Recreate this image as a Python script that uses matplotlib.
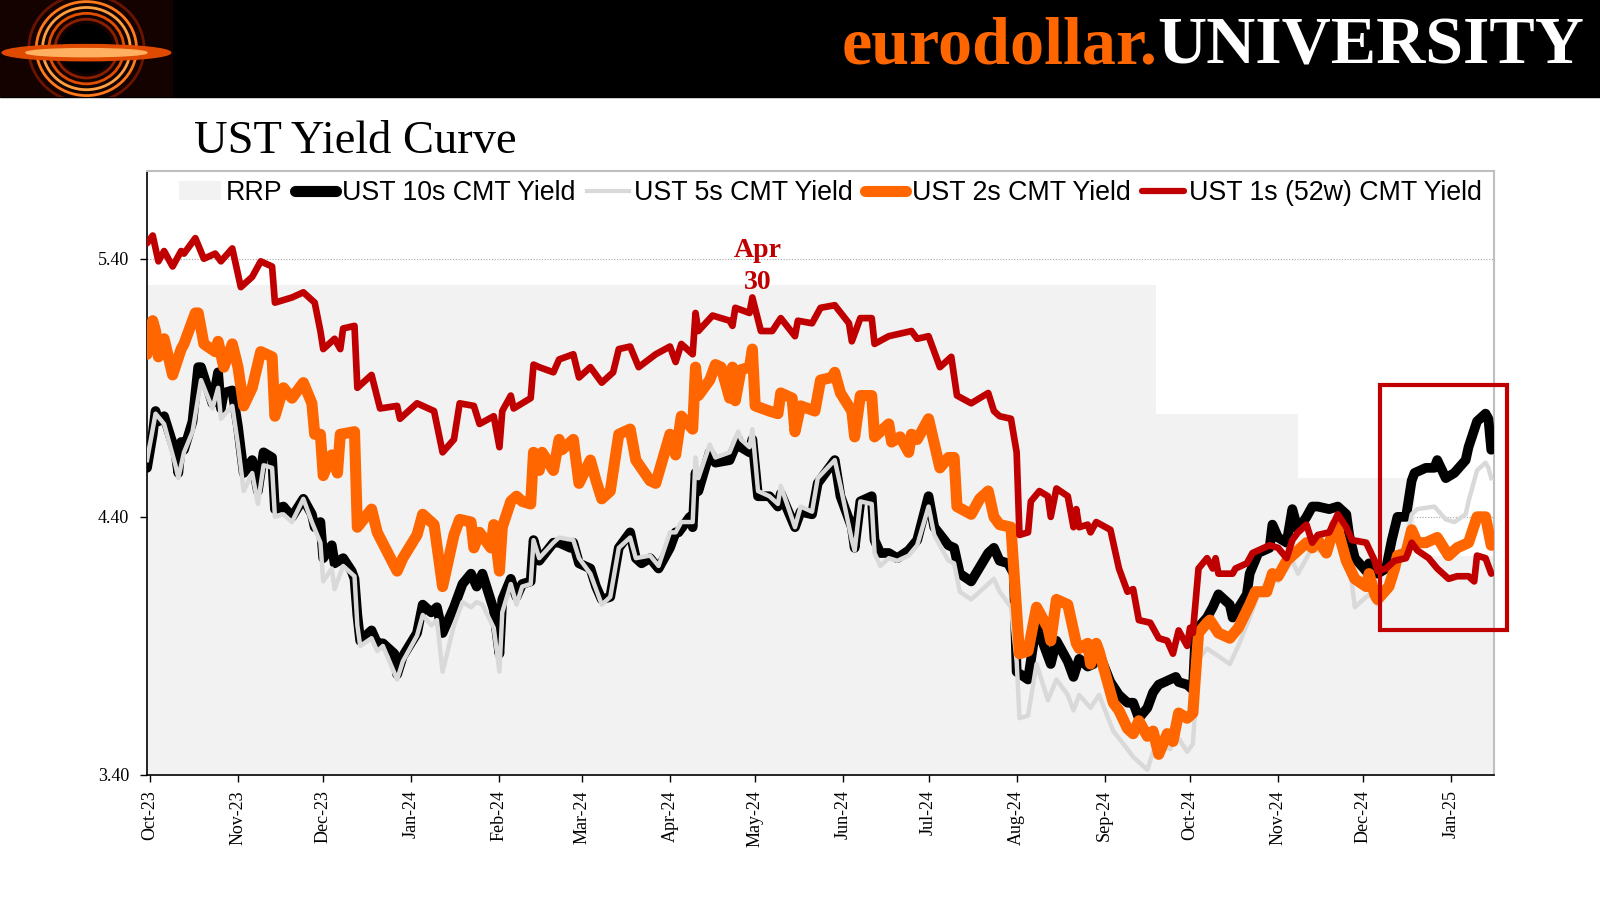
import pandas as pd
import matplotlib
matplotlib.use("Agg")
import matplotlib.pyplot as plt
import matplotlib.dates as mdates
from matplotlib.patches import Rectangle, Ellipse, Patch
from matplotlib.lines import Line2D

# RRP award rate steps (holds until next date)
rrp_dates = ["2023-09-30", "2024-09-19", "2024-11-08", "2024-12-19", "2025-01-16"]
rrp_vals = [5.30, 4.80, 4.55, 4.25, 4.25]

# UST 1s (52w) CMT yield
ust1 = [("2023-09-30",5.46),("2023-10-02",5.49),("2023-10-04",5.39),("2023-10-06",5.43),("2023-10-09",5.37),
        ("2023-10-12",5.43),("2023-10-13",5.42),("2023-10-17",5.48),("2023-10-20",5.40),("2023-10-24",5.42),
        ("2023-10-26",5.39),("2023-10-30",5.44),("2023-11-02",5.29),("2023-11-06",5.33),("2023-11-09",5.39),
        ("2023-11-13",5.37),("2023-11-14",5.23),("2023-11-20",5.25),("2023-11-24",5.27),("2023-11-28",5.23),
        ("2023-11-30",5.12),("2023-12-01",5.05),("2023-12-05",5.09),("2023-12-07",5.05),("2023-12-08",5.13),
        ("2023-12-12",5.14),("2023-12-13",4.90),("2023-12-18",4.95),("2023-12-21",4.82),("2023-12-27",4.83),
        ("2023-12-28",4.78),("2024-01-03",4.84),("2024-01-09",4.81),("2024-01-12",4.65),("2024-01-16",4.70),
        ("2024-01-18",4.84),("2024-01-23",4.83),("2024-01-25",4.76),("2024-01-30",4.79),("2024-02-01",4.67),
        ("2024-02-02",4.81),("2024-02-05",4.87),("2024-02-06",4.82),("2024-02-12",4.86),("2024-02-13",4.99),
        ("2024-02-15",4.98),("2024-02-20",4.96),("2024-02-22",5.01),("2024-02-27",5.03),("2024-02-29",4.94),
        ("2024-03-04",4.98),("2024-03-08",4.92),("2024-03-12",4.96),("2024-03-14",5.05),("2024-03-18",5.06),
        ("2024-03-21",4.98),("2024-03-27",5.03),("2024-04-01",5.06),("2024-04-03",5.00),("2024-04-05",5.07),
        ("2024-04-09",5.03),("2024-04-10",5.19),("2024-04-11",5.12),("2024-04-16",5.18),("2024-04-22",5.16),
        ("2024-04-23",5.14),("2024-04-24",5.21),("2024-04-29",5.19),("2024-04-30",5.25),("2024-05-03",5.12),
        ("2024-05-07",5.12),("2024-05-10",5.17),("2024-05-15",5.10),("2024-05-16",5.16),("2024-05-21",5.15),
        ("2024-05-24",5.21),("2024-05-29",5.22),("2024-06-03",5.15),("2024-06-04",5.08),("2024-06-07",5.17),
        ("2024-06-11",5.17),("2024-06-12",5.07),("2024-06-17",5.10),("2024-06-25",5.12),("2024-06-27",5.09),
        ("2024-07-01",5.10),("2024-07-05",4.98),("2024-07-09",5.02),("2024-07-11",4.87),("2024-07-16",4.84),
        ("2024-07-22",4.88),("2024-07-24",4.81),("2024-07-26",4.79),("2024-07-30",4.78),("2024-08-01",4.65),
        ("2024-08-02",4.33),("2024-08-05",4.34),("2024-08-06",4.46),("2024-08-09",4.50),("2024-08-12",4.48),
        ("2024-08-13",4.40),("2024-08-15",4.51),("2024-08-19",4.48),("2024-08-21",4.36),("2024-08-22",4.43),
        ("2024-08-23",4.36),("2024-08-26",4.37),("2024-08-27",4.34),("2024-08-29",4.38),("2024-09-03",4.35),
        ("2024-09-06",4.20),("2024-09-09",4.11),("2024-09-11",4.12),("2024-09-13",4.00),("2024-09-17",3.99),
        ("2024-09-20",3.93),("2024-09-23",3.92),("2024-09-25",3.87),("2024-09-27",3.96),("2024-09-30",3.90),
        ("2024-10-01",3.97),("2024-10-02",3.95),("2024-10-04",4.20),("2024-10-07",4.24),("2024-10-09",4.20),
        ("2024-10-10",4.24),("2024-10-11",4.18),("2024-10-16",4.18),("2024-10-17",4.20),("2024-10-21",4.22),
        ("2024-10-23",4.26),("2024-10-25",4.27),("2024-10-29",4.29),("2024-11-01",4.28),("2024-11-04",4.24),
        ("2024-11-06",4.31),("2024-11-08",4.34),("2024-11-11",4.37),("2024-11-13",4.30),("2024-11-15",4.33),
        ("2024-11-19",4.34),("2024-11-22",4.41),("2024-11-25",4.36),("2024-11-27",4.31),("2024-12-02",4.30),
        ("2024-12-05",4.23),("2024-12-06",4.19),("2024-12-09",4.20),("2024-12-12",4.23),("2024-12-16",4.24),
        ("2024-12-18",4.30),("2024-12-20",4.27),("2024-12-24",4.24),("2024-12-27",4.20),("2024-12-31",4.16),
        ("2025-01-03",4.17),("2025-01-07",4.17),("2025-01-09",4.15),("2025-01-10",4.25),("2025-01-13",4.24),
        ("2025-01-15",4.18)]

# UST 2s CMT yield
ust2 = [("2023-09-30",5.03),("2023-10-02",5.16),("2023-10-03",5.12),("2023-10-04",5.02),("2023-10-06",5.09),
        ("2023-10-09",4.95),("2023-10-12",5.05),("2023-10-13",5.07),("2023-10-17",5.19),("2023-10-18",5.19),
        ("2023-10-20",5.07),("2023-10-24",5.04),("2023-10-25",5.08),("2023-10-27",4.98),("2023-10-30",5.07),
        ("2023-11-01",4.98),("2023-11-03",4.83),("2023-11-06",4.90),("2023-11-09",5.04),("2023-11-13",5.02),
        ("2023-11-14",4.79),("2023-11-17",4.90),("2023-11-20",4.86),("2023-11-24",4.92),("2023-11-27",4.84),
        ("2023-11-28",4.72),("2023-11-30",4.72),("2023-12-01",4.56),("2023-12-04",4.64),("2023-12-06",4.57),
        ("2023-12-07",4.72),("2023-12-12",4.73),("2023-12-13",4.36),("2023-12-18",4.43),("2023-12-20",4.34),
        ("2023-12-27",4.19),("2023-12-29",4.24),("2024-01-03",4.33),("2024-01-05",4.41),("2024-01-09",4.37),
        ("2024-01-12",4.13),("2024-01-16",4.33),("2024-01-18",4.39),("2024-01-22",4.38),("2024-01-23",4.28),
        ("2024-01-25",4.34),("2024-01-29",4.28),("2024-01-30",4.37),("2024-02-01",4.19),("2024-02-02",4.36),
        ("2024-02-05",4.46),("2024-02-07",4.48),("2024-02-09",4.46),("2024-02-12",4.45),("2024-02-13",4.65),
        ("2024-02-15",4.58),("2024-02-16",4.65),("2024-02-20",4.58),("2024-02-22",4.70),("2024-02-23",4.66),
        ("2024-02-27",4.70),("2024-02-29",4.53),("2024-03-04",4.62),("2024-03-06",4.54),("2024-03-08",4.47),
        ("2024-03-11",4.50),("2024-03-14",4.72),("2024-03-18",4.74),("2024-03-20",4.62),("2024-03-25",4.54),
        ("2024-03-27",4.53),("2024-04-01",4.72),("2024-04-03",4.64),("2024-04-05",4.79),("2024-04-09",4.74),
        ("2024-04-10",4.98),("2024-04-11",4.87),("2024-04-15",4.93),("2024-04-17",4.99),("2024-04-19",4.98),
        ("2024-04-22",4.86),("2024-04-23",4.98),("2024-04-24",4.85),("2024-04-26",4.97),("2024-04-29",4.98),
        ("2024-04-30",5.05),("2024-05-01",4.83),("2024-05-06",4.81),("2024-05-09",4.80),("2024-05-10",4.88),
        ("2024-05-14",4.86),("2024-05-15",4.73),("2024-05-17",4.83),("2024-05-22",4.81),("2024-05-24",4.93),
        ("2024-05-28",4.94),("2024-05-29",4.96),("2024-05-31",4.88),("2024-06-04",4.81),("2024-06-05",4.71),
        ("2024-06-07",4.87),("2024-06-11",4.87),("2024-06-12",4.71),("2024-06-17",4.76),("2024-06-18",4.69),
        ("2024-06-21",4.71),("2024-06-24",4.65),("2024-06-25",4.72),("2024-06-27",4.70),("2024-07-01",4.78),
        ("2024-07-05",4.59),("2024-07-08",4.63),("2024-07-10",4.63),("2024-07-11",4.44),("2024-07-16",4.41),
        ("2024-07-19",4.47),("2024-07-22",4.50),("2024-07-24",4.40),("2024-07-26",4.37),("2024-07-30",4.36),
        ("2024-08-02",3.87),("2024-08-05",3.88),("2024-08-08",4.05),("2024-08-12",3.97),("2024-08-13",3.92),
        ("2024-08-15",4.08),("2024-08-19",4.06),("2024-08-22",3.91),("2024-08-23",3.89),("2024-08-26",3.91),
        ("2024-08-27",3.83),("2024-08-29",3.91),("2024-08-30",3.88),("2024-09-04",3.68),("2024-09-06",3.65),
        ("2024-09-09",3.58),("2024-09-11",3.56),("2024-09-13",3.61),("2024-09-16",3.55),("2024-09-18",3.57),
        ("2024-09-20",3.48),("2024-09-23",3.56),("2024-09-25",3.53),("2024-09-27",3.64),("2024-09-30",3.62),
        ("2024-10-02",3.64),("2024-10-04",3.95),("2024-10-07",3.99),("2024-10-08",4.00),("2024-10-11",3.95),
        ("2024-10-15",3.93),("2024-10-18",3.97),("2024-10-22",4.06),("2024-10-24",4.11),("2024-10-28",4.11),
        ("2024-10-30",4.18),("2024-11-01",4.17),("2024-11-04",4.23),("2024-11-08",4.27),("2024-11-11",4.30),
        ("2024-11-13",4.28),("2024-11-15",4.31),("2024-11-18",4.26),("2024-11-21",4.37),("2024-11-22",4.35),
        ("2024-11-25",4.23),("2024-11-28",4.16),("2024-12-02",4.13),("2024-12-03",4.18),("2024-12-05",4.10),
        ("2024-12-06",4.08),("2024-12-10",4.13),("2024-12-12",4.20),("2024-12-13",4.25),("2024-12-16",4.26),
        ("2024-12-18",4.35),("2024-12-20",4.30),("2024-12-23",4.30),("2024-12-27",4.32),("2024-12-31",4.25),
        ("2025-01-03",4.28),("2025-01-07",4.30),("2025-01-10",4.40),("2025-01-13",4.40),("2025-01-15",4.29)]

# UST 5s CMT yield
ust5 = [("2023-09-30",4.62),("2023-10-03",4.80),("2023-10-06",4.76),("2023-10-10",4.60),("2023-10-11",4.55),
        ("2023-10-13",4.65),("2023-10-16",4.73),("2023-10-19",4.93),("2023-10-23",4.82),("2023-10-25",4.90),
        ("2023-10-26",4.78),("2023-10-30",4.83),("2023-11-01",4.68),("2023-11-03",4.50),("2023-11-06",4.57),
        ("2023-11-08",4.45),("2023-11-10",4.60),("2023-11-13",4.59),("2023-11-14",4.40),("2023-11-17",4.41),
        ("2023-11-20",4.38),("2023-11-24",4.47),("2023-11-27",4.38),("2023-11-30",4.30),("2023-12-01",4.15),
        ("2023-12-04",4.20),("2023-12-05",4.12),("2023-12-08",4.21),("2023-12-12",4.17),("2023-12-13",3.98),
        ("2023-12-14",3.90),("2023-12-18",3.93),("2023-12-20",3.88),("2023-12-22",3.90),("2023-12-27",3.77),
        ("2023-12-29",3.84),("2024-01-03",3.94),("2024-01-05",4.02),("2024-01-08",3.98),("2024-01-10",4.00),
        ("2024-01-12",3.80),("2024-01-16",3.98),("2024-01-19",4.07),("2024-01-22",4.05),("2024-01-24",4.07),
        ("2024-01-26",4.06),("2024-01-30",3.97),("2024-02-01",3.80),("2024-02-02",4.03),("2024-02-05",4.14),
        ("2024-02-07",4.06),("2024-02-09",4.13),("2024-02-12",4.14),("2024-02-13",4.31),("2024-02-15",4.24),
        ("2024-02-20",4.30),("2024-02-22",4.32),("2024-02-27",4.31),("2024-02-29",4.24),("2024-03-04",4.18),
        ("2024-03-08",4.06),("2024-03-11",4.09),("2024-03-14",4.28),("2024-03-18",4.32),("2024-03-20",4.24),
        ("2024-03-25",4.25),("2024-03-28",4.21),("2024-04-01",4.34),("2024-04-03",4.34),("2024-04-05",4.38),
        ("2024-04-09",4.38),("2024-04-10",4.63),("2024-04-11",4.55),("2024-04-15",4.68),("2024-04-17",4.63),
        ("2024-04-22",4.65),("2024-04-25",4.73),("2024-04-26",4.70),("2024-04-29",4.67),("2024-04-30",4.74),
        ("2024-05-02",4.50),("2024-05-06",4.48),("2024-05-09",4.45),("2024-05-10",4.52),("2024-05-15",4.36),
        ("2024-05-17",4.44),("2024-05-21",4.42),("2024-05-23",4.55),("2024-05-29",4.62),("2024-05-31",4.52),
        ("2024-06-04",4.31),("2024-06-05",4.27),("2024-06-07",4.46),("2024-06-11",4.45),("2024-06-12",4.26),
        ("2024-06-14",4.21),("2024-06-17",4.24),("2024-06-20",4.23),("2024-06-24",4.25),("2024-06-27",4.29),
        ("2024-07-01",4.44),("2024-07-03",4.33),("2024-07-08",4.23),("2024-07-10",4.22),("2024-07-12",4.11),
        ("2024-07-16",4.08),("2024-07-22",4.14),("2024-07-24",4.16),("2024-07-26",4.11),("2024-07-30",4.05),
        ("2024-08-01",3.84),("2024-08-02",3.62),("2024-08-05",3.63),("2024-08-08",3.83),("2024-08-12",3.69),
        ("2024-08-15",3.77),("2024-08-19",3.71),("2024-08-21",3.65),("2024-08-23",3.71),("2024-08-27",3.66),
        ("2024-08-30",3.71),("2024-09-04",3.57),("2024-09-09",3.50),("2024-09-11",3.47),("2024-09-13",3.45),
        ("2024-09-16",3.42),("2024-09-18",3.49),("2024-09-20",3.52),("2024-09-24",3.50),("2024-09-26",3.56),
        ("2024-09-30",3.49),("2024-10-02",3.52),("2024-10-04",3.85),("2024-10-07",3.89),("2024-10-11",3.86),
        ("2024-10-15",3.83),("2024-10-18",3.90),("2024-10-22",4.01),("2024-10-25",4.10),("2024-10-30",4.18),
        ("2024-11-01",4.15),("2024-11-06",4.23),("2024-11-08",4.18),("2024-11-13",4.28),("2024-11-15",4.27),
        ("2024-11-19",4.28),("2024-11-22",4.35),("2024-11-26",4.23),("2024-11-28",4.05),("2024-12-03",4.10),
        ("2024-12-06",4.06),("2024-12-09",4.10),("2024-12-12",4.20),("2024-12-16",4.30),("2024-12-18",4.41),
        ("2024-12-20",4.43),("2024-12-26",4.44),("2024-12-30",4.39),("2025-01-02",4.38),("2025-01-06",4.41),
        ("2025-01-07",4.46),("2025-01-10",4.58),("2025-01-13",4.61),("2025-01-14",4.59),("2025-01-15",4.55)]

# UST 10s CMT yield
ust10 = [("2023-09-30",4.59),("2023-10-02",4.72),("2023-10-03",4.81),("2023-10-04",4.77),("2023-10-06",4.79),
         ("2023-10-10",4.65),("2023-10-11",4.57),("2023-10-12",4.69),("2023-10-13",4.66),("2023-10-16",4.77),
         ("2023-10-18",4.98),("2023-10-19",4.98),("2023-10-23",4.84),("2023-10-25",4.96),("2023-10-26",4.82),
         ("2023-10-27",4.88),("2023-10-30",4.89),("2023-11-01",4.75),("2023-11-02",4.66),("2023-11-03",4.57),
         ("2023-11-06",4.62),("2023-11-08",4.50),("2023-11-10",4.65),("2023-11-13",4.63),("2023-11-14",4.43),
         ("2023-11-17",4.44),("2023-11-20",4.40),("2023-11-24",4.47),("2023-11-27",4.41),("2023-11-28",4.36),
         ("2023-11-30",4.38),("2023-12-01",4.24),("2023-12-04",4.29),("2023-12-05",4.22),("2023-12-08",4.24),
         ("2023-12-11",4.19),("2023-12-12",4.16),("2023-12-13",4.02),("2023-12-14",3.92),("2023-12-18",3.96),
         ("2023-12-20",3.91),("2023-12-22",3.91),("2023-12-26",3.87),("2023-12-27",3.79),("2023-12-29",3.86),
         ("2024-01-03",3.95),("2024-01-05",4.06),("2024-01-08",4.03),("2024-01-10",4.05),("2024-01-12",3.95),
         ("2024-01-16",4.05),("2024-01-19",4.14),("2024-01-22",4.18),("2024-01-24",4.13),("2024-01-26",4.18),
         ("2024-01-30",4.04),("2024-02-01",3.87),("2024-02-02",4.08),("2024-02-05",4.16),("2024-02-07",4.09),
         ("2024-02-09",4.14),("2024-02-12",4.15),("2024-02-13",4.31),("2024-02-15",4.23),("2024-02-20",4.30),
         ("2024-02-22",4.30),("2024-02-26",4.28),("2024-02-27",4.30),("2024-02-29",4.22),("2024-03-04",4.20),
         ("2024-03-06",4.13),("2024-03-08",4.08),("2024-03-11",4.09),("2024-03-14",4.28),("2024-03-18",4.34),
         ("2024-03-20",4.24),("2024-03-22",4.22),("2024-03-25",4.24),("2024-03-28",4.20),("2024-04-01",4.28),
         ("2024-04-03",4.34),("2024-04-04",4.34),("2024-04-08",4.40),("2024-04-09",4.36),("2024-04-10",4.57),
         ("2024-04-11",4.50),("2024-04-15",4.65),("2024-04-17",4.61),("2024-04-22",4.62),("2024-04-25",4.70),
         ("2024-04-26",4.67),("2024-04-29",4.65),("2024-04-30",4.70),("2024-05-02",4.48),("2024-05-06",4.48),
         ("2024-05-09",4.44),("2024-05-10",4.49),("2024-05-15",4.36),("2024-05-17",4.42),("2024-05-21",4.41),
         ("2024-05-23",4.53),("2024-05-29",4.62),("2024-05-31",4.48),("2024-06-04",4.36),("2024-06-05",4.28),
         ("2024-06-07",4.46),("2024-06-11",4.48),("2024-06-12",4.31),("2024-06-14",4.26),("2024-06-17",4.26),
         ("2024-06-20",4.24),("2024-06-24",4.27),("2024-06-27",4.31),("2024-07-01",4.48),("2024-07-03",4.36),
         ("2024-07-08",4.29),("2024-07-10",4.28),("2024-07-12",4.18),("2024-07-16",4.15),("2024-07-22",4.26),
         ("2024-07-24",4.28),("2024-07-26",4.23),("2024-07-29",4.22),("2024-07-31",4.18),("2024-08-01",3.80),
         ("2024-08-05",3.77),("2024-08-08",3.99),("2024-08-09",3.95),("2024-08-13",3.83),("2024-08-15",3.92),
         ("2024-08-19",3.84),("2024-08-21",3.78),("2024-08-23",3.85),("2024-08-26",3.82),("2024-08-28",3.83),
         ("2024-08-30",3.87),("2024-09-03",3.76),("2024-09-06",3.71),("2024-09-09",3.68),("2024-09-11",3.68),
         ("2024-09-13",3.62),("2024-09-16",3.66),("2024-09-18",3.72),("2024-09-20",3.75),("2024-09-26",3.78),
         ("2024-09-27",3.76),("2024-09-30",3.75),("2024-10-02",3.73),("2024-10-03",3.96),("2024-10-07",4.01),
         ("2024-10-09",4.05),("2024-10-11",4.10),("2024-10-15",4.06),("2024-10-16",4.01),("2024-10-21",4.10),
         ("2024-10-22",4.18),("2024-10-25",4.26),("2024-10-29",4.28),("2024-10-30",4.37),("2024-11-01",4.32),
         ("2024-11-04",4.30),("2024-11-06",4.43),("2024-11-08",4.35),("2024-11-11",4.40),("2024-11-13",4.44),
         ("2024-11-15",4.44),("2024-11-19",4.43),("2024-11-22",4.44),("2024-11-25",4.41),("2024-11-26",4.33),
         ("2024-11-28",4.24),("2024-12-02",4.19),("2024-12-03",4.22),("2024-12-05",4.19),("2024-12-06",4.18),
         ("2024-12-09",4.20),("2024-12-11",4.31),("2024-12-13",4.40),("2024-12-16",4.40),("2024-12-18",4.54),
         ("2024-12-19",4.57),("2024-12-23",4.59),("2024-12-26",4.59),("2024-12-27",4.62),("2024-12-30",4.55),
         ("2025-01-02",4.57),("2025-01-06",4.62),("2025-01-07",4.67),("2025-01-10",4.77),("2025-01-13",4.80),
         ("2025-01-14",4.78),("2025-01-15",4.66)]

labels = ["RRP", "UST 10s CMT Yield", "UST 5s CMT Yield", "UST 2s CMT Yield", "UST 1s (52w) CMT Yield"]
yticks = [3.40, 4.40, 5.40]

def unzip(pairs):
    d = pd.to_datetime([p[0] for p in pairs])
    v = [p[1] for p in pairs]
    return d, v

SERIF = ["Liberation Serif", "DejaVu Serif"]
SANS = ["Liberation Sans", "DejaVu Sans"]

fig = plt.figure(figsize=(16, 9), dpi=100)
fig.patch.set_facecolor("white")

# header band
fig.patches.append(Rectangle((0, 0.892), 1, 0.108, transform=fig.transFigure, color="black", zorder=0))

# rough stand-in for the black hole logo
lax = fig.add_axes([0.0, 0.892, 0.108, 0.108], zorder=3)
lax.set_facecolor("#140200")
lax.set_xlim(-1, 1); lax.set_ylim(-0.6, 0.6)
lax.set_xticks([]); lax.set_yticks([])
for s in lax.spines.values():
    s.set_visible(False)
for r, c in [(0.46, "#6a1400"), (0.40, "#ff7a1a"), (0.35, "#ffa040"), (0.30, "#e05000"), (0.25, "#8a2000")]:
    lax.add_patch(Ellipse((0, 0.0), 2 * r * 1.45, 2 * r * 1.45, fill=False, ec=c, lw=2.0))
lax.add_patch(Ellipse((0, 0.0), 0.6, 0.6, color="black"))
lax.add_patch(Ellipse((0, -0.05), 1.95, 0.2, color="#e04a00"))
lax.add_patch(Ellipse((0, -0.05), 1.4, 0.1, color="#ffb060"))

t_uni = fig.text(0.99, 0.929, "UNIVERSITY", color="white", fontsize=49, fontweight="bold",
                 family=SERIF, ha="right", va="baseline")
fig.canvas.draw()
bb = t_uni.get_window_extent(fig.canvas.get_renderer())
fig.text(bb.x0 / fig.bbox.width, 0.929, "eurodollar.", color="#FF6600", fontsize=49,
         fontweight="bold", family=SERIF, ha="right", va="baseline")

fig.text(0.121, 0.830, "UST Yield Curve", fontsize=33.5, family=SERIF, color="black", va="baseline")

ax = fig.add_axes([0.0919, 0.1389, 0.8419, 0.6711])
ax.set_facecolor("white")

for y in [4.40, 5.40]:
    ax.axhline(y, color="#A6A6A6", lw=0.8, ls=(0, (1, 1.5)), zorder=0)

rd = pd.to_datetime(rrp_dates)
ax.fill_between(rd, 3.0, rrp_vals, step="post", color="#F2F2F2", lw=0, zorder=1)

d, v = unzip(ust10)
ax.plot(d, v, color="black", lw=7, solid_joinstyle="round", solid_capstyle="round", zorder=3)
d, v = unzip(ust5)
ax.plot(d, v, color="#D9D9D9", lw=3.2, solid_joinstyle="round", zorder=4)
d, v = unzip(ust2)
ax.plot(d, v, color="#FF6600", lw=8, solid_joinstyle="round", solid_capstyle="round", zorder=5)
d, v = unzip(ust1)
ax.plot(d, v, color="#C00000", lw=4.8, solid_joinstyle="round", solid_capstyle="round", zorder=6)

ax.set_xlim(pd.Timestamp("2023-09-30"), pd.Timestamp("2025-01-16"))
ax.set_ylim(3.40, 5.74)
ax.set_yticks(yticks)
ax.set_yticklabels([f"{t:.2f}" for t in yticks], family=SERIF, fontsize=13)
ax.xaxis.set_major_locator(mdates.MonthLocator())
ax.xaxis.set_major_formatter(mdates.DateFormatter("%b-%y"))
for lab in ax.get_xticklabels():
    lab.set_rotation(90)
    lab.set_family(SERIF)
    lab.set_fontsize(13)
ax.tick_params(axis="y", direction="out", length=5, width=1, pad=8)
ax.tick_params(axis="x", direction="out", length=5, width=1, pad=6)

ax.spines["left"].set_color("black")
ax.spines["bottom"].set_color("black")
ax.spines["left"].set_linewidth(1.2)
ax.spines["bottom"].set_linewidth(1.2)
for s in ["top", "right"]:
    ax.spines[s].set_color("#BFBFBF")
    ax.spines[s].set_linewidth(1.5)

ax.text(pd.Timestamp("2024-05-02"), 5.37, "Apr\n30", color="#C00000", fontsize=20,
        fontweight="bold", family=SERIF, ha="center", va="center", linespacing=1.4, zorder=7)

handles = [Patch(facecolor="#F2F2F2", edgecolor="none"),
           Line2D([], [], color="black", lw=8, solid_capstyle="round"),
           Line2D([], [], color="#D9D9D9", lw=3),
           Line2D([], [], color="#FF6600", lw=8, solid_capstyle="round"),
           Line2D([], [], color="#C00000", lw=4.5, solid_capstyle="round")]
ax.legend(handles, labels, ncol=5, loc="upper left", bbox_to_anchor=(0.0238, 0.985),
          frameon=False, prop={"family": SANS, "size": 19.3}, handlelength=1.55,
          handletextpad=0.2, columnspacing=0.45, borderaxespad=0, borderpad=0)

# highlight box over the latest weeks
fig.patches.append(Rectangle((0.8625, 0.300), 0.0794, 0.2722, transform=fig.transFigure,
                             fill=False, ec="#C00000", lw=3, zorder=10))

fig.savefig("out.png", dpi=100)
